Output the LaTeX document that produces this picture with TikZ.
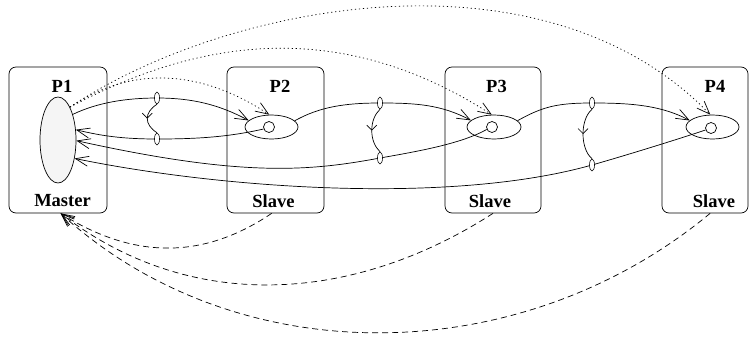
\documentclass[tikz,border=0pt]{standalone}
\usepackage{fontspec}
\setmainfont{Liberation Serif}
\usetikzlibrary{arrows.meta,shapes.geometric,decorations.markings}
\begin{document}
\begin{tikzpicture}[x=1pt,y=-1pt,line width=0.7pt,
  proc/.style={draw, rounded corners=7pt, inner sep=0pt, minimum height=146pt},
  lbl/.style={font=\bfseries\fontsize{18.5}{20}\selectfont, inner sep=0pt},
  slaveell/.style={ellipse, draw, minimum width=53pt, minimum height=24pt, inner sep=0pt},
  hub/.style={circle, draw, minimum size=11pt, inner sep=0pt},
  tick/.style={ellipse, draw, fill=white, line width=0.6pt, minimum width=5pt, minimum height=12pt, inner sep=0pt},
  tip/.style={-{Straight Barb[length=13pt,width=10pt]}},
  dots/.style={dash pattern=on 1.2pt off 2.8pt},
  dashes/.style={dash pattern=on 6pt off 4pt},
  flow/.style={postaction={decorate}, decoration={markings,
    mark=at position 0.5 with {\arrow{Straight Barb[length=5pt,width=10pt]}}}}]
\useasboundingbox (0,0) rectangle (751,338);

% processes
\node[proc, minimum width=98pt] (p1) at (58,140) {};
\node[proc, minimum width=97pt] (p2) at (275.5,140) {};
\node[proc, minimum width=96pt] (p3) at (493,140) {};
\node[proc, minimum width=86pt] (p4) at (705,140) {};

\node[lbl] (t1) at (62,86) {P1};
\node[lbl] (t2) at (280,86) {P2};
\node[lbl] (t3) at (496.5,86) {P3};
\node[lbl] (t4) at (715,86) {P4};
\node[lbl] (s1) at (62.5,201) {Master};
\node[lbl] (s2) at (273.5,201) {Slave};
\node[lbl] (s3) at (490,201) {Slave};
\node[lbl] (s4) at (714,201) {Slave};

% master and slave objects
\node[ellipse, draw, fill=gray!8, minimum width=36pt, minimum height=86pt, inner sep=0pt] (m) at (58,140) {};
\node[slaveell] (e2) at (271.5,127) {};
\node[slaveell, minimum width=54pt] (e3) at (494,127) {};
\node[slaveell] (e4) at (712.5,127) {};
\node[hub] (c2) at (269,127) {};
\node[hub] (c3) at (492,127) {};
\node[hub] (c4) at (711,128) {};

% crossing points of the call chains
\coordinate (k1t) at (157,98);  \coordinate (k1b) at (157,139);
\coordinate (k2t) at (380,103); \coordinate (k2b) at (380,158);
\coordinate (k3t) at (592,103); \coordinate (k3b) at (592,165);

% forward calls
\draw[tip] (m.60) .. controls +(25,-12) and +(-30,0) .. (k1t)
  .. controls +(35,0) and +(-30,-16) .. (e2.164);
\draw[tip] (e2.15) .. controls +(25,-14) and +(-35,0) .. (k2t)
  .. controls +(35,0) and +(-30,-16) .. (e3.164);
\draw[tip] (e3.15) .. controls +(25,-14) and +(-35,0) .. (k3t)
  .. controls +(35,0) and +(-30,-16) .. (e4.164);

% replies to the master
\draw[tip] (c2.200) .. controls +(-35,8) and +(40,0) .. (k1b)
  .. controls +(-35,0) and +(25,6) .. (m.30);
\draw[tip] (c3.205) .. controls +(-25,14) and +(40,-7) .. (k2b)
  .. controls +(-70,13) and +(167,37) .. (m.-2);
\draw[tip] (c4.200) .. controls +(-30,10) and +(35,-10) .. (k3b)
  .. controls +(-142,40) and +(146,30) .. (m.-48);

% dotted links from the master
\draw[tip, dots] (m.70) .. controls (135,63) and (205,72) .. (e2.100);
\draw[tip, dots] (m.70) .. controls (187,45) and (331,11) .. (e3.100);
\draw[tip, dots] (m.70) .. controls (222,5) and (541,-60) .. (e4.100);

% dashed links back to the master
\draw[tip, dashes] (p2.-93) .. controls (207,257) and (138,262) .. (p1.-88);
\draw[tip, dashes] (p3.south) .. controls (357,301) and (194,316) .. (p1.-88);
\draw[tip, dashes] (p4.-86) .. controls (520,371) and (237,374) .. (p1.-88);

% markers with their transfer arrows
\node[tick] (mk1t) at (k1t) {}; \node[tick] (mk1b) at (k1b) {};
\node[tick] (mk2t) at (k2t) {}; \node[tick] (mk2b) at (k2b) {};
\node[tick] (mk3t) at (k3t) {}; \node[tick] (mk3b) at (k3b) {};
\draw[flow] (mk1t.south) .. controls +(-13,8) and +(-13,-8) .. (mk1b.north);
\draw[flow] (mk2t.south) .. controls +(-11,10) and +(-11,-10) .. (mk2b.north);
\draw[flow] (mk3t.south) .. controls +(-12,10) and +(-12,-10) .. (mk3b.north);
\end{tikzpicture}
\end{document}
